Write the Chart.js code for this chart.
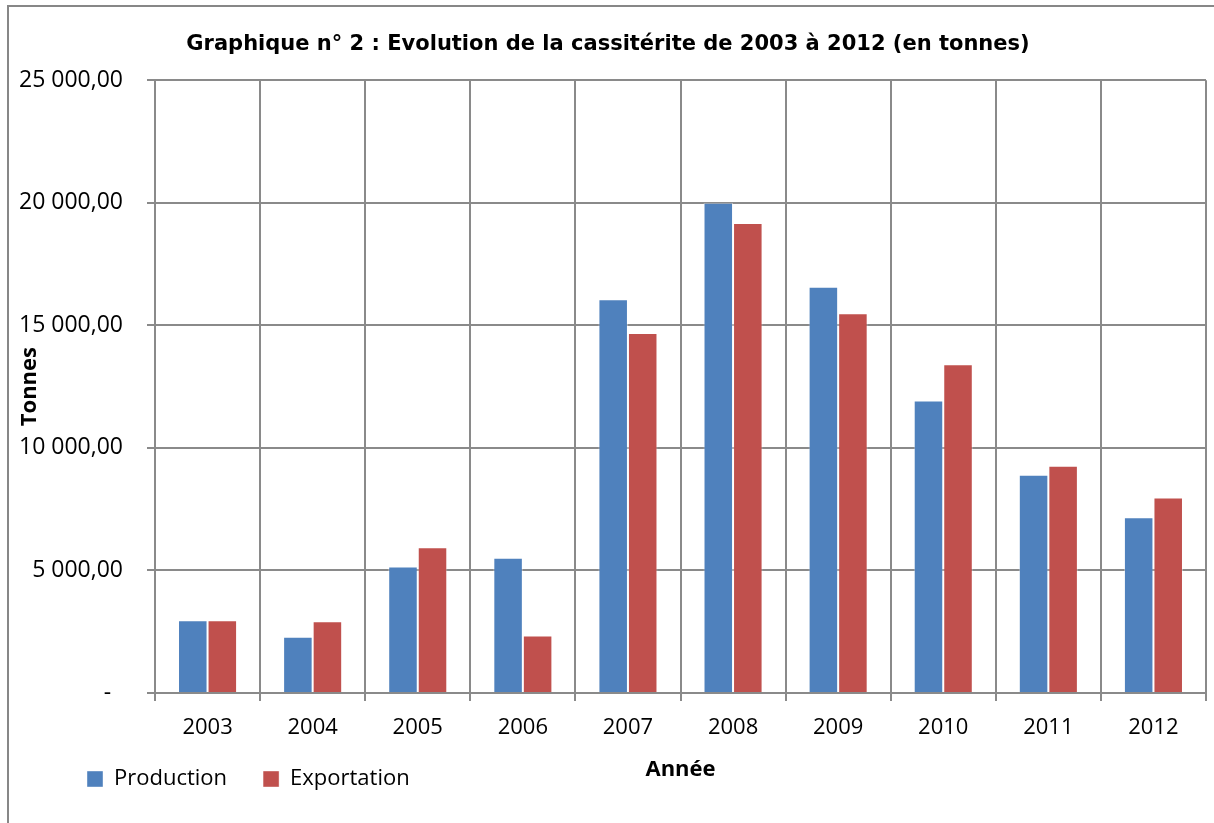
<!DOCTYPE html>
<html>
<head>
<meta charset="utf-8">
<script src="https://cdn.jsdelivr.net/npm/chart.js@4"></script>
<style>
  body { margin: 0; background: #fff; }
  #frame { position: absolute; left: 7px; top: 5px; width: 1300px; height: 900px;
           border-left: 2px solid #878787; border-top: 2px solid #878787; }
  #myChart { position: absolute; left: 0; top: 0; }
</style>
</head>
<body>
<div id="frame"></div>
<canvas id="myChart" width="1214" height="823"></canvas>
<script>
// values (tonnes)
const years = ['2003', '2004', '2005', '2006', '2007', '2008', '2009', '2010', '2011', '2012'];
const production = [2970, 2290, 5160, 5520, 16060, 20000, 16570, 11930, 8900, 7170];
const exportation = [2970, 2930, 5950, 2350, 14690, 19170, 15490, 13410, 9270, 7980];

const gridColor = '#8a8a8a';

function fmt(v) {
    if (v === 0) return '-  ';
    var parts = v.toFixed(2).split('.');
    return parts[0].replace(/\B(?=(\d{3})+(?!\d))/g, ' ') + ',' + parts[1];
}

// legend sits left-aligned under the axis, as in the Excel original
const legendShift = {
    id: 'legendShift',
    afterLayout(chart) {
        chart.legend.left += 41;
        chart.legend.top -= 10;
    }
};

new Chart(document.getElementById('myChart'), {
    type: 'bar',
    data: {
        labels: years,
        datasets: [
            {
                label: 'Production',
                backgroundColor: '#4F81BD',
                borderColor: 'rgba(255,255,255,0.4)',
                borderWidth: 1,
                data: production
            },
            {
                label: 'Exportation',
                backgroundColor: '#C0504D',
                borderColor: 'rgba(255,255,255,0.4)',
                borderWidth: 1,
                data: exportation
            }
        ]
    },
    plugins: [legendShift],
    options: {
        responsive: false,
        animation: false,
        datasets: {
            bar: { categoryPercentage: 0.562, barPercentage: 1 }
        },
        layout: {
            padding: { left: 10, right: 8, top: 0, bottom: 13 }
        },
        plugins: {
            title: {
                display: true,
                text: 'Graphique n° 2 : Evolution de la cassitérite de 2003 à 2012 (en tonnes)',
                color: '#000',
                font: { family: 'DejaVu Sans', size: 21, weight: 'bold' },
                padding: { top: 32, bottom: 23 }
            },
            legend: {
                position: 'bottom',
                align: 'start',
                labels: {
                    boxWidth: 16,
                    boxHeight: 16,
                    padding: 36,
                    color: '#000',
                    font: { family: 'Open Sans', size: 22 }
                }
            },
            tooltip: { enabled: false }
        },
        scales: {
            x: {
                grid: { color: gridColor, lineWidth: 2, tickLength: 8, offset: true },
                border: { color: gridColor, width: 2 },
                ticks: { color: '#000', padding: 14, font: { family: 'Open Sans', size: 22 } },
                title: {
                    display: true,
                    text: 'Année',
                    color: '#000',
                    font: { family: 'Open Sans', size: 22, weight: 'bold' },
                    padding: { top: 0, bottom: -41 }
                },
                afterFit: function (scale) { scale.height = 49; }
            },
            y: {
                min: 0,
                max: 25000,
                grid: { color: gridColor, lineWidth: 2, tickLength: 8 },
                border: { color: gridColor, width: 2 },
                ticks: {
                    stepSize: 5000,
                    color: '#000',
                    padding: 24,
                    font: { family: 'Open Sans', size: 23 },
                    callback: function (value) { return fmt(value); }
                },
                title: {
                    display: true,
                    text: 'Tonnes',
                    color: '#000',
                    font: { family: 'Open Sans', size: 22, weight: 'bold' },
                    padding: { top: 7, bottom: 0 }
                },
                afterFit: function (scale) { scale.width = 145; }
            }
        }
    }
});
</script>
</body>
</html>
